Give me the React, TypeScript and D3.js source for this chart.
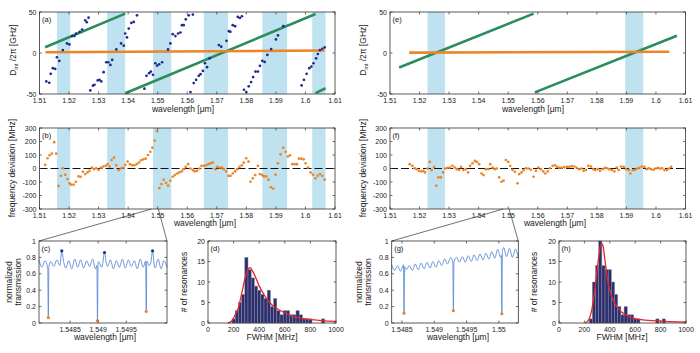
import React from 'react';
import * as d3 from 'd3';

// ---------- tick values ----------
const WL_TICKS = [1.51, 1.52, 1.53, 1.54, 1.55, 1.56, 1.57, 1.58, 1.59, 1.6, 1.61];
const DINT_TICKS = [-50, 0, 50];
const DEV_TICKS = [-300, -200, -100, 0, 100, 200, 300];
const T_TICKS = [0, 0.2, 0.4, 0.6, 0.8, 1];
const FWHM_TICKS = [0, 200, 400, 600, 800, 1000];
const COUNT_TICKS = [0, 5, 10, 15, 20];
const C_TICKS = [1.5485, 1.549, 1.5495];
const G_TICKS = [1.5485, 1.549, 1.5495, 1.55];

// ---------- shaded crossing bands ----------
const bandsLeft: [number, number][] = [[1.5159, 1.5204], [1.5329, 1.539], [1.5484, 1.5546], [1.5656, 1.5738], [1.5854, 1.5938], [1.6023, 1.6068]];
const bandsRight: [number, number][] = [[1.5227, 1.5286], [1.5896, 1.5957]];

// ---------- (a) ----------
const aBlue: [number, number][] = [
  [1.5123, -34.7], [1.5133, -36.3], [1.5138, -25.4], [1.5145, -18.5], [1.5153, -19.4], [1.5159, -5.2], [1.5167, -9.7], [1.5179, 3.6], [1.5193, 11.7], [1.5201, 10.5], [1.521, 20.6], [1.5218, 20.6], [1.5224, 23.8], [1.5236, 25.8], [1.5244, 28.6], [1.5255, 39.9], [1.526, 37.5], [1.5266, 43.1],
  [1.5272, -45.6], [1.5281, -39.9], [1.5286, -38.7], [1.5297, -33.5], [1.5303, -32.7], [1.5309, -34.7], [1.5317, -23.4], [1.5326, -11.3], [1.5333, -11.3], [1.534, -14.5], [1.5346, -8.5], [1.536, 4.4], [1.5376, 11.7], [1.5385, 8.9], [1.539, 23.8], [1.5396, 19.0], [1.5402, 29.8], [1.5411, 36.7], [1.5419, 37.9], [1.543, 46.0],
  [1.5455, -43.5], [1.5462, -27.8], [1.5471, -24.6], [1.5477, -22.6], [1.5484, -26.6], [1.5492, -12.5], [1.5498, -15.3], [1.5505, -13.7], [1.5515, -11.3], [1.5535, 4.4], [1.5543, 11.7], [1.5551, 23.0], [1.556, 20.6], [1.5569, 23.8], [1.5577, 25.0], [1.5582, 33.9], [1.5588, 33.9], [1.5595, 41.1], [1.5605, 46.0], [1.5619, 46.8],
  [1.5611, -47.6], [1.5622, -36.7], [1.563, -32.7], [1.5639, -27.8], [1.5645, -25.8], [1.5653, -21.8], [1.566, -12.5], [1.5667, -17.3], [1.5676, -6.5], [1.5707, 9.7], [1.5715, 7.7], [1.5733, 14.9], [1.5741, 26.6], [1.5746, 25.8], [1.5754, 33.9], [1.5762, 32.7], [1.5771, 44.0], [1.5778, 42.7], [1.5785, 44.8],
  [1.5792, -44.8], [1.58, -47.6], [1.5808, -40.7], [1.5816, -35.5], [1.5823, -29.4], [1.5831, -22.6], [1.5839, -22.6], [1.5846, -15.7], [1.5854, -9.7], [1.5862, -10.9], [1.5871, -2.4], [1.5884, 4.8], [1.59, 16.5], [1.5907, 21.4], [1.5925, 32.7],
  [1.5987, -39.5], [1.5995, -32.7], [1.6004, -25.4], [1.6013, -18.5], [1.602, -16.5], [1.6027, -12.5], [1.6036, -6.5], [1.6042, -1.2], [1.6049, 3.6], [1.6057, 5.2], [1.6065, 6.8],
];
const aGreen: [number, number][][] = [
  [[1.5119, 7], [1.539, 48]],
  [[1.539, -49], [1.6034, 47.5]],
  [[1.6034, -49], [1.6068, -43]],
];
const aOrange: [number, number][] = [[1.512, 1], [1.6065, 3]];

// ---------- (e) ----------
const eGreen: [number, number][][] = [
  [[1.5131, -17.7], [1.5586, 48]],
  [[1.559, -48], [1.6071, 21]],
];
const eOrange: [number, number][] = [[1.5165, 0.5], [1.6045, 1.5]];

// ---------- (b) ----------
const bDev: [number, number][] = [
  [1.51192, 27], [1.51271, 76], [1.51339, 98], [1.51418, 110], [1.51497, 195], [1.51565, 110], [1.51644, -129], [1.51723, -54], [1.51791, 2], [1.5187, -46],
  [1.51949, -78], [1.52017, -110], [1.52073, -120], [1.52153, -120], [1.52232, -98], [1.52322, -59], [1.5239, -61], [1.52469, -24], [1.52548, -41], [1.52627, -29],
  [1.52695, -17], [1.52774, 7], [1.52842, -5], [1.52921, 2], [1.53, -10], [1.53079, 7], [1.53158, 15], [1.53237, 20], [1.53305, 32], [1.53373, 15],
  [1.53441, 63], [1.5352, 80], [1.53599, 24], [1.53678, -12], [1.53757, 0], [1.53836, 7], [1.53904, 27], [1.53983, 51], [1.54062, 32], [1.54141, 24],
  [1.54209, 24], [1.54288, 32], [1.54367, 44], [1.54435, 61], [1.54514, 68], [1.54593, 73], [1.54672, 100], [1.54751, 124], [1.54819, 154], [1.54898, 207],
  [1.54977, 276], [1.55056, -146], [1.55124, -115], [1.55203, -83], [1.55282, -107], [1.5535, -127], [1.55429, -90], [1.55508, -61], [1.55576, -49], [1.55655, -37],
  [1.55734, -29], [1.55814, -22], [1.55881, -5], [1.55949, 12], [1.56028, 32], [1.56107, 0], [1.56186, -12], [1.56254, -22], [1.56333, -17], [1.56412, 0],
  [1.5648, 20], [1.56559, 20], [1.56638, 24], [1.56718, 32], [1.56785, 39], [1.56864, 44], [1.56944, -5], [1.57011, 12], [1.5709, 7], [1.57169, 7],
  [1.57237, -5], [1.57316, -22], [1.57395, -54], [1.57463, -54], [1.57542, -37], [1.57621, -22], [1.57689, -5], [1.57768, 12], [1.57847, 24], [1.57915, 44],
  [1.57994, 76], [1.58073, 51], [1.58141, -98], [1.5822, -73], [1.58299, -49], [1.5839, 20], [1.58458, -41], [1.58537, -49], [1.58593, -59], [1.58672, -59],
  [1.58751, -83], [1.58831, -139], [1.5891, -149], [1.58989, -46], [1.59068, 39], [1.59158, 105], [1.59249, 154], [1.59328, 124], [1.59407, 88], [1.59475, 98],
  [1.59554, 32], [1.59633, 32], [1.59712, 32], [1.5978, 73], [1.59859, 73], [1.59938, 68], [1.60006, 39], [1.60085, 7], [1.60175, -29], [1.60254, -46],
  [1.60333, -73], [1.60412, -54], [1.60492, -41], [1.60571, -54], [1.6065, -83],
];

// ---------- (f) ----------
const fDev: [number, number][] = [
  [1.51667, 32], [1.51757, 20], [1.51836, 2], [1.51904, -5], [1.51983, -17], [1.52062, -22], [1.5213, -17], [1.52186, -29], [1.52266, 0], [1.52345, 49],
  [1.52412, -12], [1.52492, 12], [1.52571, -127], [1.52638, -66], [1.52718, -66], [1.52797, -29], [1.52864, 0], [1.52944, 5], [1.53023, 7], [1.53113, 20],
  [1.53192, 7], [1.5326, -5], [1.53339, -10], [1.53407, 12], [1.53486, -12], [1.53565, -5], [1.53644, -29], [1.53712, 20], [1.53791, 39], [1.5387, 56],
  [1.53938, 49], [1.54017, 32], [1.54096, -37], [1.54164, -49], [1.54243, -5], [1.54322, -5], [1.5439, 32], [1.54469, 7], [1.54548, -5], [1.54616, 0],
  [1.54695, -66], [1.54774, -98], [1.54842, -90], [1.54921, 63], [1.55, 49], [1.55068, 20], [1.55147, -10], [1.55226, -24], [1.55316, -110], [1.55373, -41],
  [1.55452, -29], [1.5552, -12], [1.55599, 2], [1.55678, 0], [1.55768, -10], [1.55859, -61], [1.55938, -17], [1.56017, 7], [1.56107, -5], [1.56186, -22],
  [1.56254, -37], [1.56333, -22], [1.56412, 2], [1.56503, 20], [1.56582, 24], [1.5665, 12], [1.56729, 7], [1.56808, 5], [1.56898, 10], [1.56989, 12],
  [1.57068, 12], [1.57147, 17], [1.57237, 15], [1.57316, 5], [1.57407, -5], [1.57486, 0], [1.57554, -17], [1.57633, -12], [1.57712, 20], [1.57802, 15],
  [1.57881, -5], [1.57949, -12], [1.58028, -5], [1.58107, -17], [1.58198, -5], [1.58277, 5], [1.58345, 2], [1.58424, -5], [1.58503, -12], [1.58593, -22],
  [1.58672, 7], [1.5874, -12], [1.58819, 15], [1.5891, 12], [1.58989, -5], [1.59079, -12], [1.59136, -37], [1.59215, -12], [1.59294, -10], [1.59362, 0],
  [1.59441, 5], [1.5952, 15], [1.5961, 12], [1.59689, -5], [1.59757, 2], [1.59836, -5], [1.59915, -10], [1.59983, 0], [1.60062, 5], [1.60141, 0],
  [1.60209, 2], [1.60288, -12], [1.60367, -12], [1.60435, 0], [1.60514, 12],
];

// ---------- (c) / (g) transmission ----------
const cDomain: [number, number] = [1.547946, 1.550227];
const cBaseline = [0.77, 0.68, 0.76, 0.66, 0.75, 0.69, 0.77, 0.7, 0.78, 0.67, 0.76, 0.66, 0.78, 0.68, 0.77, 0.67, 0.76, 0.69, 0.78, 0.66, 0.75, 0.68, 0.79, 0.69,
  0.77, 0.66, 0.76, 0.68, 0.78, 0.67, 0.77, 0.69, 0.76, 0.66, 0.78, 0.68, 0.77, 0.7, 0.76, 0.67, 0.78, 0.66, 0.76, 0.68];
const cDips: [number, number][] = [[1.548112, 0.065], [1.548988, 0.03], [1.549857, 0.14]];
const cPeaks: [number, number][] = [[1.548352, 0.88], [1.549113, 0.86], [1.54997, 0.88]];

const gDomain: [number, number] = [1.548342, 1.5503];
const gBaseline = [0.71, 0.64, 0.7, 0.63, 0.71, 0.65, 0.7, 0.64, 0.72, 0.65, 0.73, 0.66, 0.74, 0.67, 0.75, 0.68, 0.76, 0.7, 0.78, 0.72, 0.8, 0.73, 0.8, 0.74,
  0.81, 0.74, 0.82, 0.75, 0.83, 0.76, 0.84, 0.77, 0.85, 0.78, 0.87, 0.79, 0.9, 0.8, 0.92, 0.81, 0.91, 0.8, 0.9, 0.8];
const gDips: [number, number][] = [[1.548533, 0.12], [1.549296, 0.15], [1.550045, 0.113]];

// ---------- (d) / (h) histograms ----------
const dCenters = [200, 225, 250, 275, 300, 325, 350, 375, 400, 425, 450, 475, 500, 525, 550, 575, 600, 625, 650, 675, 700, 725, 750, 775, 800, 825, 850, 875, 900];
const dCounts = [1, 3, 5, 7, 16, 13, 11, 9, 8, 7, 6, 8, 4, 6, 3, 2, 3, 3, 2, 2, 3, 2, 1, 1, 1, 0, 0, 0, 1];
const dFit: [number, number][] = [[156, 0], [185, 0.5], [213, 2], [240, 4], [266, 7.6], [292, 11.3], [318, 13.3], [331, 13.5], [344, 12.9], [370, 11.3], [396, 9.3], [448, 6.4], [500, 4.4], [578, 2.8], [656, 1.7], [760, 1], [891, 0.6], [1000, 0.4]];

const hCenters = [250, 275, 300, 325, 350, 375, 400, 425, 450, 475, 500, 525, 550, 575, 600, 625, 650, 675, 700, 725, 750, 775, 800, 825];
const hCounts = [1, 10, 14, 20, 14, 13, 13, 10, 7, 4, 2, 4, 2, 2, 1, 1, 0, 0, 0, 0, 0, 1, 0, 1];
const hFit: [number, number][] = [[205, 0], [232, 0.7], [258, 3.2], [284, 8.5], [311, 15.8], [332, 19.4], [345, 19], [363, 15], [389, 9.3], [416, 6.4], [455, 4], [495, 2.6], [574, 1.3], [679, 0.7], [837, 0.4], [1000, 0.25]];

// ---------- styling ----------
const FONT = 'Liberation Sans, Arial, Helvetica, sans-serif';
const C_BAND = '#bfe2f1';
const C_BLUE = '#1e2a8c';
const C_GREEN = '#2b8c5c';
const C_ORANGE = '#ec8526';
const C_TRANS = '#5b8bd6';
const C_RED = '#e8262b';
const C_AX = '#333';

type Box = { x0: number; x1: number; y0: number; y1: number };
const A: Box = { x0: 39.5, x1: 335, y0: 12, y1: 94 };
const B: Box = { x0: 39.5, x1: 335, y0: 128, y1: 209 };
const E: Box = { x0: 390, x1: 685.5, y0: 12, y1: 94 };
const F: Box = { x0: 390, x1: 685.5, y0: 128, y1: 209 };
const Cb: Box = { x0: 39, x1: 167, y0: 241, y1: 323 };
const D: Box = { x0: 208, x1: 336, y0: 241, y1: 323 };
const G: Box = { x0: 391.7, x1: 518.3, y0: 241, y1: 323 };
const H: Box = { x0: 559, x1: 686, y0: 241, y1: 323 };

const fmtNum = (v: number) => String(+v.toFixed(4));

function Frame({ box, xs, ys, xTicks, yTicks, label }: any) {
  const t = 2.5;
  return (
    <g fontFamily={FONT} fontSize={7} fill="#222">
      <rect x={box.x0} y={box.y0} width={box.x1 - box.x0} height={box.y1 - box.y0} fill="none" stroke={C_AX} strokeWidth={0.8} />
      {xTicks.map((v: number) => (
        <g key={'x' + v}>
          <line x1={xs(v)} x2={xs(v)} y1={box.y1} y2={box.y1 - t} stroke={C_AX} strokeWidth={0.7} />
          <line x1={xs(v)} x2={xs(v)} y1={box.y0} y2={box.y0 + t} stroke={C_AX} strokeWidth={0.7} />
          <text x={xs(v)} y={box.y1 + 8.5} textAnchor="middle">{fmtNum(v)}</text>
        </g>
      ))}
      {yTicks.map((v: number) => (
        <g key={'y' + v}>
          <line x1={box.x0} x2={box.x0 + t} y1={ys(v)} y2={ys(v)} stroke={C_AX} strokeWidth={0.7} />
          <line x1={box.x1} x2={box.x1 - t} y1={ys(v)} y2={ys(v)} stroke={C_AX} strokeWidth={0.7} />
          <text x={box.x0 - 3} y={ys(v) + 2.5} textAnchor="end">{fmtNum(v)}</text>
        </g>
      ))}
      <text x={box.x0 + 2.5} y={box.y0 + 10} fontSize={7.5} fill="#111">{label}</text>
    </g>
  );
}

function Bands({ bands, xs, box }: any) {
  return (
    <g>
      {bands.map((b: [number, number], i: number) => (
        <rect key={i} x={xs(b[0])} y={box.y0} width={xs(b[1]) - xs(b[0])} height={box.y1 - box.y0} fill={C_BAND} />
      ))}
    </g>
  );
}

function XLabel({ x, y, children }: any) {
  return <text x={x} y={y} textAnchor="middle" fontFamily={FONT} fontSize={8.5} fill="#222">{children}</text>;
}
function YLabel({ x, y, children }: any) {
  return <text transform={`translate(${x},${y}) rotate(-90)`} textAnchor="middle" fontFamily={FONT} fontSize={8.5} fill="#222">{children}</text>;
}

function buildTrans(domain: [number, number], base: number[], dips: [number, number][], peaks: [number, number][]) {
  const idx = d3.scaleLinear().domain([0, base.length - 1]).range(domain);
  const grid: [number, number][] = base.map((v, i) => [idx(i), v]);
  const interp = (w: number) => {
    const k = idx.invert(w);
    const i0 = Math.max(0, Math.min(base.length - 2, Math.floor(k)));
    const f = k - i0;
    return base[i0] * (1 - f) + base[i0 + 1] * f;
  };
  const pts: [number, number][] = [...grid];
  const span = domain[1] - domain[0];
  dips.forEach(([w, v]) => {
    const e = span * 0.0045;
    pts.push([w - e, interp(w - e)], [w, v], [w + e, interp(w + e)]);
  });
  peaks.forEach(([w, v]) => {
    const e = span * 0.014;
    pts.push([w - e, interp(w - e)], [w, v], [w + e, interp(w + e)]);
  });
  // drop grid points that fall inside a spike window
  const windows = [...dips.map(([w]) => [w, span * 0.0045]), ...peaks.map(([w]) => [w, span * 0.014])];
  const filtered = pts.filter(([w], i) => i >= grid.length || !windows.some(([c, e]) => Math.abs(w - c) < e));
  return filtered.sort((a, b) => a[0] - b[0]);
}

export default function App() {
  const xsA = d3.scaleLinear().domain([1.51, 1.61]).range([A.x0, A.x1]);
  const ysA = d3.scaleLinear().domain([-50, 50]).range([A.y1, A.y0]);
  const ysB = d3.scaleLinear().domain([-300, 300]).range([B.y1, B.y0]);
  const xsE = d3.scaleLinear().domain([1.51, 1.61]).range([E.x0, E.x1]);
  const xsC = d3.scaleLinear().domain(cDomain).range([Cb.x0, Cb.x1]);
  const ysC = d3.scaleLinear().domain([0, 1]).range([Cb.y1, Cb.y0]);
  const xsG = d3.scaleLinear().domain(gDomain).range([G.x0, G.x1]);
  const xsD = d3.scaleLinear().domain([0, 1000]).range([D.x0, D.x1]);
  const ysD = d3.scaleLinear().domain([0, 20]).range([D.y1, D.y0]);
  const xsH = d3.scaleLinear().domain([0, 1000]).range([H.x0, H.x1]);

  const lineA = d3.line<[number, number]>().x(d => xsA(d[0])).y(d => ysA(d[1]));
  const lineE = d3.line<[number, number]>().x(d => xsE(d[0])).y(d => ysA(d[1]));
  const lineC = d3.line<[number, number]>().x(d => xsC(d[0])).y(d => ysC(d[1])).curve(d3.curveMonotoneX);
  const lineG = d3.line<[number, number]>().x(d => xsG(d[0])).y(d => ysC(d[1])).curve(d3.curveMonotoneX);
  const fitD = d3.line<[number, number]>().x(d => xsD(d[0])).y(d => ysD(d[1])).curve(d3.curveMonotoneX);
  const fitH = d3.line<[number, number]>().x(d => xsH(d[0])).y(d => ysD(d[1])).curve(d3.curveMonotoneX);

  const cPts = buildTrans(cDomain, cBaseline, cDips, cPeaks);
  const gPts = buildTrans(gDomain, gBaseline, gDips, []);

  const r = 1.35;

  const hist = (xs: any, centers: number[], counts: number[]) =>
    centers.map((c, i) => counts[i] > 0 ? (
      <rect key={i} x={xs(c - 12.5)} y={ysD(counts[i])} width={xs(c + 12.5) - xs(c - 12.5)} height={ysD(0) - ysD(counts[i])}
        fill="#2b2f72" stroke="#8a8a96" strokeWidth={0.5} />
    ) : null);

  const Dint = (x: number, y: number) => (
    <text transform={`translate(${x},${y}) rotate(-90)`} textAnchor="middle" fontFamily={FONT} fontSize={8.5} fill="#222">
      D<tspan fontSize={5.5} dy={2}>int</tspan><tspan dy={-2}> /2π [GHz]</tspan>
    </text>
  );

  return (
    <svg width={700} height={353} style={{ position: 'absolute', left: 0, top: 0, background: '#fff' }}>
      <rect width={700} height={353} fill="#fff" />

      {/* (a) */}
      <Bands bands={bandsLeft} xs={xsA} box={A} />
      {aGreen.map((s, i) => <path key={i} d={lineA(s) || ''} stroke={C_GREEN} strokeWidth={2.6} fill="none" />)}
      <path d={lineA(aOrange) || ''} stroke={C_ORANGE} strokeWidth={2.6} fill="none" />
      {aBlue.map((p, i) => <circle key={i} cx={xsA(p[0])} cy={ysA(p[1])} r={r} fill={C_BLUE} />)}
      <Frame box={A} xs={xsA} ys={ysA} xTicks={WL_TICKS} yTicks={DINT_TICKS} label="(a)" />
      {Dint(15.5, 50)}
      <XLabel x={183} y={112}>wavelength [μm]</XLabel>

      {/* (b) */}
      <Bands bands={bandsLeft} xs={xsA} box={B} />
      <line x1={B.x0} x2={B.x1} y1={ysB(0)} y2={ysB(0)} stroke="#111" strokeWidth={1.1} strokeDasharray="8,3" />
      {bDev.map((p, i) => <circle key={i} cx={xsA(p[0])} cy={ysB(p[1])} r={r} fill={C_ORANGE} />)}
      <Frame box={B} xs={xsA} ys={ysB} xTicks={WL_TICKS} yTicks={DEV_TICKS} label="(b)" />
      <YLabel x={15} y={168}>frequency deviation [MHz]</YLabel>
      <XLabel x={205} y={225.5}>wavelength [μm]</XLabel>

      {/* (e) */}
      <Bands bands={bandsRight} xs={xsE} box={E} />
      {eGreen.map((s, i) => <path key={i} d={lineE(s) || ''} stroke={C_GREEN} strokeWidth={2.6} fill="none" />)}
      <path d={lineE(eOrange) || ''} stroke={C_ORANGE} strokeWidth={2.6} fill="none" />
      <Frame box={E} xs={xsE} ys={ysA} xTicks={WL_TICKS} yTicks={DINT_TICKS} label="(e)" />
      {Dint(366, 50)}
      <XLabel x={533} y={112}>wavelength [μm]</XLabel>

      {/* (f) */}
      <Bands bands={bandsRight} xs={xsE} box={F} />
      <line x1={F.x0} x2={F.x1} y1={ysB(0)} y2={ysB(0)} stroke="#111" strokeWidth={1.1} strokeDasharray="8,3" />
      {fDev.map((p, i) => <circle key={i} cx={xsE(p[0])} cy={ysB(p[1])} r={r} fill={C_ORANGE} />)}
      <Frame box={F} xs={xsE} ys={ysB} xTicks={WL_TICKS} yTicks={DEV_TICKS} label="(f)" />
      <YLabel x={366} y={168}>frequency deviation [MHz]</YLabel>
      <XLabel x={555} y={225.5}>wavelength [μm]</XLabel>

      {/* zoom connectors */}
      <line x1={Cb.x0} y1={Cb.y0} x2={xsA(cDomain[0])} y2={B.y1} stroke={C_AX} strokeWidth={0.7} />
      <line x1={Cb.x1} y1={Cb.y0} x2={xsA(cDomain[1])} y2={B.y1} stroke={C_AX} strokeWidth={0.7} />
      <line x1={G.x0} y1={G.y0} x2={xsE(gDomain[0])} y2={F.y1} stroke={C_AX} strokeWidth={0.7} />
      <line x1={G.x1} y1={G.y0} x2={xsE(gDomain[1])} y2={F.y1} stroke={C_AX} strokeWidth={0.7} />

      {/* (c) */}
      <path d={lineC(cPts) || ''} stroke={C_TRANS} strokeWidth={0.9} fill="none" />
      {cDips.map((p, i) => <circle key={'d' + i} cx={xsC(p[0])} cy={ysC(p[1])} r={1.6} fill={C_ORANGE} />)}
      {cPeaks.map((p, i) => <circle key={'p' + i} cx={xsC(p[0])} cy={ysC(p[1])} r={1.6} fill={C_BLUE} />)}
      <Frame box={Cb} xs={xsC} ys={ysC} xTicks={C_TICKS} yTicks={T_TICKS} label="(c)" />
      <YLabel x={11.5} y={282}>normalized</YLabel>
      <YLabel x={20.5} y={282}>transmission</YLabel>
      <XLabel x={105} y={339.5}>wavelength [μm]</XLabel>

      {/* (d) */}
      {hist(xsD, dCenters, dCounts)}
      <path d={fitD(dFit) || ''} stroke={C_RED} strokeWidth={1.3} fill="none" />
      <Frame box={D} xs={xsD} ys={ysD} xTicks={FWHM_TICKS} yTicks={COUNT_TICKS} label="(d)" />
      <YLabel x={187} y={282}># of resonances</YLabel>
      <XLabel x={272} y={340}>FWHM [MHz]</XLabel>

      {/* (g) */}
      <path d={lineG(gPts) || ''} stroke={C_TRANS} strokeWidth={0.9} fill="none" />
      {gDips.map((p, i) => <circle key={'g' + i} cx={xsG(p[0])} cy={ysC(p[1])} r={1.6} fill={C_ORANGE} />)}
      <Frame box={G} xs={xsG} ys={ysC} xTicks={G_TICKS} yTicks={T_TICKS} label="(g)" />
      <YLabel x={361.5} y={282}>normalized</YLabel>
      <YLabel x={370.5} y={282}>transmission</YLabel>
      <XLabel x={458} y={339.5}>wavelength [μm]</XLabel>

      {/* (h) */}
      {hist(xsH, hCenters, hCounts)}
      <path d={fitH(hFit) || ''} stroke={C_RED} strokeWidth={1.3} fill="none" />
      <Frame box={H} xs={xsH} ys={ysD} xTicks={FWHM_TICKS} yTicks={COUNT_TICKS} label="(h)" />
      <YLabel x={537} y={282}># of resonances</YLabel>
      <XLabel x={622} y={340}>FWHM [MHz]</XLabel>
    </svg>
  );
}
